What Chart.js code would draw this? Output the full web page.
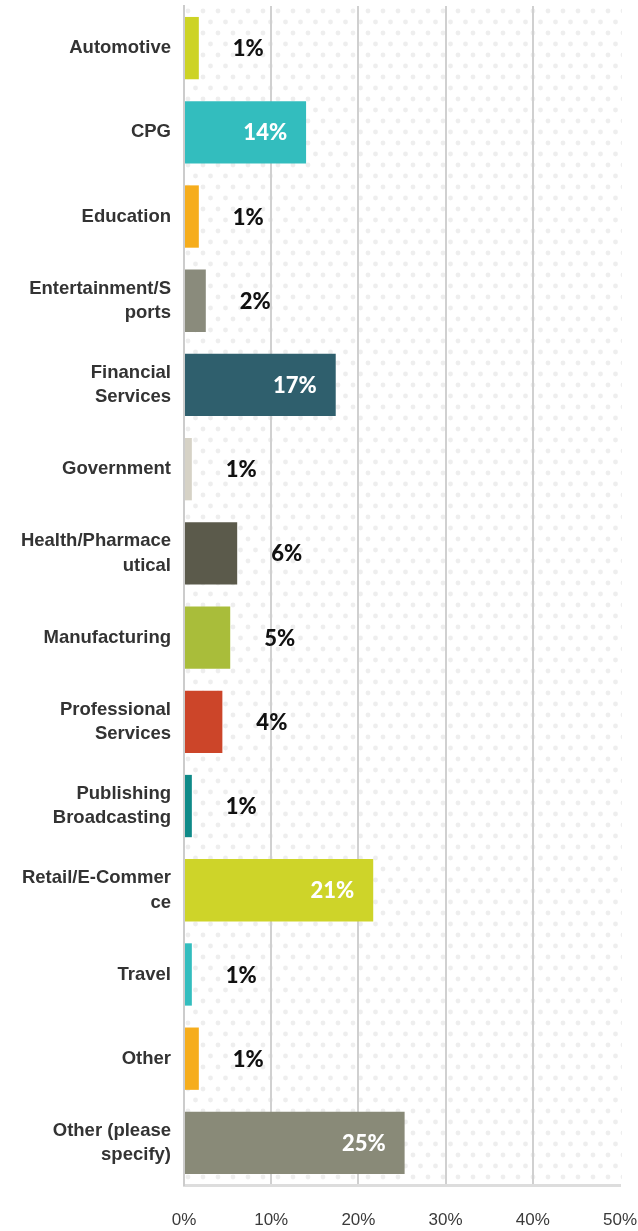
<!DOCTYPE html>
<html>
<head>
<meta charset="utf-8">
<script src="https://cdn.jsdelivr.net/npm/chart.js@4.4.1/dist/chart.umd.min.js"></script>
<style>
  html, body { margin:0; padding:0; background:#fff; }
  #wrap { width:638px; height:1231px; position:relative; }
</style>
</head>
<body>
<div id="wrap"><canvas id="industryChart"></canvas></div>
<script>
// Respondents by industry
const categories = [
  'Automotive', 'CPG', 'Education', ['Entertainment/S','ports'], ['Financial','Services'],
  'Government', ['Health/Pharmace','utical'], 'Manufacturing', ['Professional','Services'],
  ['Publishing','Broadcasting'], ['Retail/E-Commer','ce'], 'Travel', 'Other', ['Other (please','specify)']
];
const shares = [1.7, 14.0, 1.7, 2.5, 17.4, 0.9, 6.1, 5.3, 4.4, 0.9, 21.7, 0.9, 1.7, 25.3];
const shareLabels = ['1%','14%','1%','2%','17%','1%','6%','5%','4%','1%','21%','1%','1%','25%'];
const barColors = ['#cdd325','#33bdbe','#f6ad1c','#8a8b7c','#2f5f6d','#d6d2c6','#5b5a4b',
  '#a9bd3a','#cc4529','#0f8a88','#ced429','#33bdbe','#f6ad1c','#898a78'];
const tickValues = [0, 10, 20, 30, 40, 50];

// dotted plot background
function dotPattern(ctx){
  const c = document.createElement('canvas');
  c.width = 15; c.height = 22;
  const g = c.getContext('2d');
  g.fillStyle = '#eeeeee';
  [[4, 5], [11.5, 16]].forEach(function(p){
    g.beginPath(); g.arc(p[0], p[1], 2.4, 0, Math.PI*2); g.fill();
  });
  return ctx.createPattern(c, 'repeat');
}

const bgPlugin = {
  id: 'dots',
  beforeDraw(chart){
    const a = chart.chartArea, ctx = chart.ctx;
    ctx.save();
    ctx.translate(a.left, a.top);
    ctx.fillStyle = dotPattern(ctx);
    ctx.fillRect(0, 0, a.right - a.left + 2, a.bottom - a.top);
    ctx.restore();
  }
};

const valuePlugin = {
  id: 'values',
  afterDatasetsDraw(chart){
    const ctx = chart.ctx;
    const meta = chart.getDatasetMeta(0);
    ctx.save();
    ctx.font = '900 22px Lato, "Open Sans", sans-serif';
    ctx.textBaseline = 'middle';
    meta.data.forEach(function(bar, i){
      if(shares[i] >= 10){
        ctx.fillStyle = '#ffffff';
        ctx.textAlign = 'right';
        ctx.fillText(shareLabels[i], bar.x - 19, bar.y + 1);
      } else {
        ctx.fillStyle = '#111111';
        ctx.textAlign = 'left';
        ctx.fillText(shareLabels[i], bar.x + 34, bar.y + 1);
      }
    });
    ctx.restore();
  }
};

const ctx = document.getElementById('industryChart').getContext('2d');
new Chart(ctx, {
  type: 'bar',
  data: {
    labels: categories,
    datasets: [{
      data: shares,
      backgroundColor: barColors,
      barPercentage: 0.74,
      categoryPercentage: 1
    }]
  },
  options: {
    indexAxis: 'y',
    responsive: true,
    maintainAspectRatio: false,
    animation: false,
    layout: { padding: { top: 6, right: 18, left: 0, bottom: 0 } },
    plugins: { legend: { display:false }, tooltip: { enabled:false } },
    scales: {
      x: {
        min: 0, max: 50,
        afterBuildTicks(scale){ scale.ticks = tickValues.map(v => ({ value: v })); },
        afterFit(scale){ scale.height = 46; scale.paddingLeft = 0; scale.paddingRight = 0; },
        grid: {
          color: c => (c.tick && c.tick.value === 50) ? 'rgba(0,0,0,0)' : '#d0d0d0',
          lineWidth: 2,
          drawTicks: false
        },
        border: { display: true, color: '#dddddd', width: 3 },
        ticks: {
          padding: 25,
          color: '#3a3a3a',
          font: { family: '"Liberation Sans", Arial, sans-serif', size: 17 },
          callback: v => v + '%'
        }
      },
      y: {
        afterFit(scale){ scale.width = 184; scale.paddingTop = 0; scale.paddingBottom = 0; },
        grid: { display: false },
        border: { display: true, color: '#cccccc', width: 2 },
        ticks: {
          padding: 5,
          color: '#333333',
          font: { family: '"Liberation Sans", Arial, sans-serif', size: 18.5, weight: 'bold', lineHeight: 1.32 }
        }
      }
    }
  },
  plugins: [bgPlugin, valuePlugin]
});
</script>
</body>
</html>
